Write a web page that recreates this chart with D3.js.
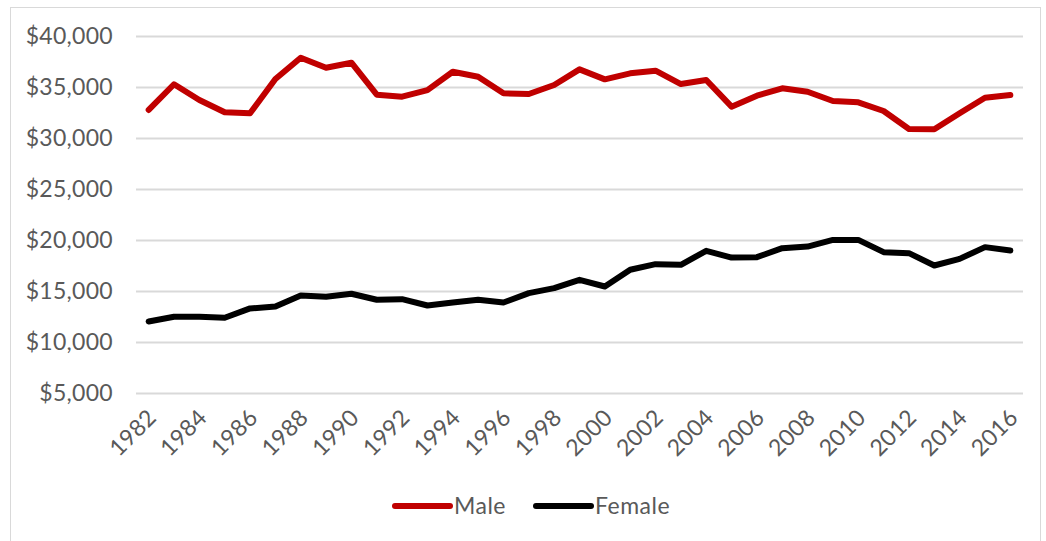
<!DOCTYPE html>
<html>
<head>
<meta charset="utf-8">
<script src="https://cdn.jsdelivr.net/npm/d3@7"></script>
<style>
  html, body { margin: 0; padding: 0; background: #fff; }
  svg { display: block; }
  text { font-family: "Lato", "Open Sans", sans-serif; fill: #595959; }
</style>
</head>
<body>
<svg id="chart" width="1046" height="541"></svg>
<script>
const years = [1982,1983,1984,1985,1986,1987,1988,1989,1990,1991,1992,1993,1994,1995,1996,1997,1998,1999,2000,2001,2002,2003,2004,2005,2006,2007,2008,2009,2010,2011,2012,2013,2014,2015,2016];
const maleValues = [32750,35270,33730,32520,32420,35780,37870,36890,37380,34250,34050,34700,36500,36010,34380,34310,35200,36730,35750,36340,36600,35290,35690,33070,34150,34870,34540,33630,33500,32650,30880,30850,32420,33950,34220];
const femaleValues = [12010,12470,12470,12380,13290,13480,14560,14430,14730,14140,14200,13580,13870,14140,13870,14790,15280,16100,15440,17080,17630,17570,18940,18280,18320,19200,19360,20010,20010,18810,18710,17500,18150,19300,18970];
const yTicks = [5000,10000,15000,20000,25000,30000,35000,40000];
const xTickYears = [1982,1984,1986,1988,1990,1992,1994,1996,1998,2000,2002,2004,2006,2008,2010,2012,2014,2016];
const seriesNames = ["Male","Female"];
const seriesColors = ["#C00000","#000000"];

const svg = d3.select("#chart");
const W = 1046, H = 541;

// outer chart border
svg.append("rect").attr("x",10.5).attr("y",7.5).attr("width",W-16).attr("height",H-4)
  .attr("fill","none").attr("stroke","#D9D9D9").attr("stroke-width",1);

const plot = {left:136, right:1023, top:36, bottom:393};

const x = d3.scaleBand().domain(years).range([plot.left, plot.right]).padding(0);
const y = d3.scaleLinear().domain([5000,40000]).range([plot.bottom, plot.top]);

// gridlines + y labels
const yAxis = d3.axisLeft(y).tickValues(yTicks).tickSize(-(plot.right-plot.left))
  .tickFormat(d => "$" + d3.format(",")(d)).tickPadding(23);
const gy = svg.append("g").attr("transform",`translate(${plot.left},0)`).call(yAxis);
gy.select(".domain").remove();
gy.selectAll(".tick line").attr("stroke","#D9D9D9").attr("stroke-width",2);
gy.selectAll(".tick text").style("font-size","23px").style("letter-spacing","0.3px").attr("fill","#595959");

// x axis labels
const xAxis = d3.axisBottom(x).tickValues(xTickYears).tickSize(0).tickPadding(0);
const gx = svg.append("g").attr("transform",`translate(0,${plot.bottom})`).call(xAxis);
gx.select(".domain").remove();
gx.selectAll(".tick text")
  .style("font-size","23px")
  .style("letter-spacing","0.3px")
  .attr("fill","#595959")
  .attr("text-anchor","end")
  .attr("dy","0")
  .attr("y",0)
  .attr("transform","translate(9,26) rotate(-45)");

const line = d3.line().x((d,i) => x(years[i]) + x.bandwidth()/2).y(d => y(d));
[maleValues, femaleValues].forEach((vals, k) => {
  svg.append("path").datum(vals).attr("d", line)
    .attr("fill","none").attr("stroke", seriesColors[k]).attr("stroke-width",6)
    .attr("stroke-linejoin","round").attr("stroke-linecap","round");
});

// legend
const legendX = [395, 536];
seriesNames.forEach((name, k) => {
  const g = svg.append("g").attr("transform",`translate(${legendX[k]},506)`);
  g.append("line").attr("x1",0).attr("x2",55).attr("y1",0).attr("y2",0)
    .attr("stroke",seriesColors[k]).attr("stroke-width",6).attr("stroke-linecap","round");
  g.append("text").attr("x",59).attr("y",0).attr("dy","0.35em")
    .style("font-size","23px").style("letter-spacing","0.5px").text(name);
});
</script>
</body>
</html>
